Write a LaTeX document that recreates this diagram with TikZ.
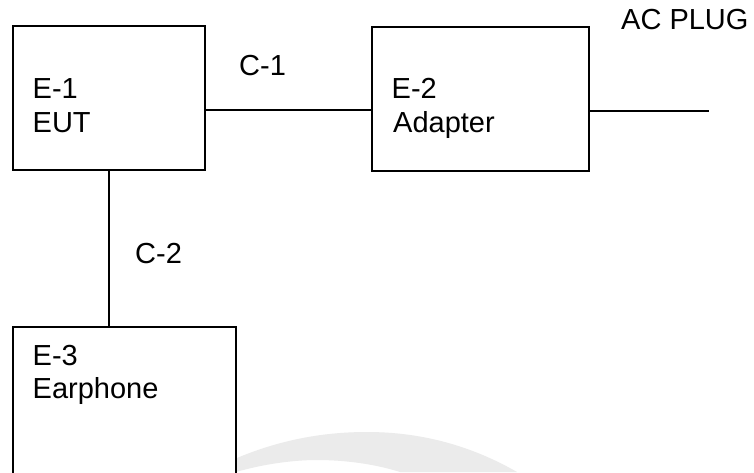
\documentclass[tikz,border=0pt]{standalone}
\usepackage{fontspec}
\setmainfont{Liberation Sans}
\tikzset{
  box/.style={draw=black,line width=1.7pt,fill=white,outer sep=0pt,inner sep=0pt,anchor=north west},
  wire/.style={draw=black,line width=1.3pt},
  lbl/.style={inner sep=0pt,font=\fontsize{29pt}{34pt}\selectfont,text=black,anchor=base west,align=left},
}
\begin{document}
\begin{tikzpicture}[x=1pt,y=-1pt]
\useasboundingbox (0,0) rectangle (754,472);
\fill[white] (0,0) rectangle (754,472);
\fill[black!8] (230,461) .. controls (275,441) and (320,432) .. (367,432) .. controls (420,432) and (470,445) .. (517,472) -- (400,472) .. controls (375,464) and (345,460) .. (317,460) .. controls (290,460) and (260,465) .. (236,472) -- (230,472) -- cycle;
\node[box,minimum width=192pt,minimum height=144pt] (e1) at (13,26) {};
\node[box,minimum width=217pt,minimum height=144pt] (e2) at (372,27) {};
\node[box,minimum width=223pt,minimum height=170pt] (e3) at (13,327) {};
\coordinate (plug) at (709,111);
\draw[wire] (e1.east |- 0,110) -- (e2.west |- 0,110);
\draw[wire] (e2.east |- plug) -- (plug);
\draw[wire] (e1.south -| 109,0) -- (e3.north -| 109,0);
\node[lbl] (t1) at (32.5,98) {E-1};
\node[lbl] (t1b) at (32.5,132) {EUT};
\node[lbl] (t2) at (391.5,98) {E-2};
\node[lbl] (t2b) at (393,132) {Adapter};
\node[lbl] (t3) at (32.5,365) {E-3};
\node[lbl] (t3b) at (32.5,398) {Earphone};
\node[lbl] (c1) at (239,75) {C-1};
\node[lbl] (c2) at (135,263) {C-2};
\node[lbl] (ac) at (621,29) {AC PLUG};
\end{tikzpicture}
\end{document}
